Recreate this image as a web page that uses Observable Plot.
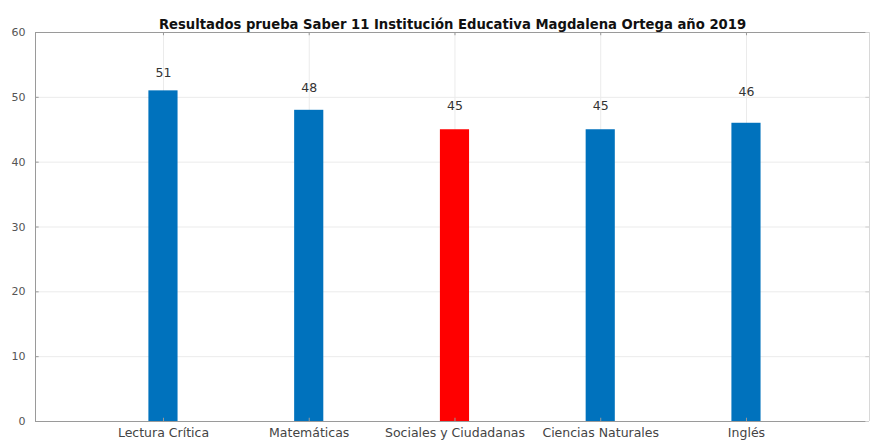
<!DOCTYPE html>
<html>
<head>
<meta charset="utf-8">
<script src="https://cdn.jsdelivr.net/npm/d3@7"></script>
<script src="https://cdn.jsdelivr.net/npm/@observablehq/plot@0.6"></script>
<style>
  html, body { margin: 0; padding: 0; background: #fff; }
  svg { display: block; font-family: "DejaVu Sans", sans-serif; }
</style>
</head>
<body>
<div id="chart"></div>
<script>
const title = "Resultados prueba Saber 11 Institución Educativa Magdalena Ortega año 2019";
const categories = ["Lectura Crítica", "Matemáticas", "Sociales y Ciudadanas", "Ciencias Naturales", "Inglés"];
const scores = [51, 48, 45, 45, 46];
const labelHeights = [53.7, 51.5, 48.6, 48.6, 50.8];
const highlight = ["Sociales y Ciudadanas"];
const yTicks = [0, 10, 20, 30, 40, 50, 60];

const data = categories.map((c, i) => ({
  cat: c, idx: i + 1, value: scores[i], labelY: labelHeights[i],
  color: highlight.includes(c) ? "#FF0000" : "#0072BD"
}));

const xDomain = [0.122, 5.844];
const gridColor = "#ebebeb";
const axisColor = "#9a9a9a";

const chart = Plot.plot({
  width: 870,
  height: 443,
  marginLeft: 35,
  marginRight: 1,
  marginTop: 32,
  marginBottom: 22,
  x: {type: "linear", domain: xDomain, axis: null},
  y: {domain: [0, 60], axis: null},
  marks: [
    // grid
    Plot.ruleY(yTicks.slice(1, -1), {stroke: gridColor, strokeWidth: 1}),
    Plot.ruleX(data, {x: "idx", stroke: gridColor, strokeWidth: 1}),
    // bars
    Plot.rectY(data, {x1: d => d.idx - 0.1, x2: d => d.idx + 0.1, y1: 0, y2: "value", fill: "color"}),
    // frame
    Plot.ruleY([0, 60], {stroke: axisColor, strokeWidth: 1}),
    Plot.ruleX([xDomain[0]], {stroke: axisColor, strokeWidth: 1}),
    Plot.ruleX([xDomain[1]], {stroke: "#d8d8d8", strokeWidth: 1}),
    // inward ticks
    Plot.ruleY(yTicks, {y: d => d, x1: xDomain[0], x2: xDomain[0] + 0.025, stroke: axisColor}),
    Plot.ruleY(yTicks, {y: d => d, x1: xDomain[1], x2: xDomain[1] - 0.025, stroke: "#cfcfcf"}),
    Plot.ruleX(data, {x: "idx", y1: 0, y2: 0.5, stroke: axisColor}),
    Plot.ruleX(data, {x: "idx", y1: 60, y2: 59.5, stroke: axisColor}),
    // y tick labels
    Plot.text(yTicks, {y: d => d, frameAnchor: "left", dx: -10, textAnchor: "end", text: d => String(d), fill: "#555", fontSize: 11}),
    // x tick labels
    Plot.text(data, {x: "idx", frameAnchor: "bottom", dy: 15, text: "cat", fill: "#444", fontSize: 12.5}),
    // value labels
    Plot.text(data, {x: "idx", y: "labelY", text: d => String(d.value), fill: "#333", fontSize: 12.5}),
    // title
    Plot.text([title], {frameAnchor: "top", dy: -13, text: d => d, fill: "#111", fontSize: 13.2, fontWeight: "bold"})
  ]
});
document.getElementById("chart").append(chart);
</script>
</body>
</html>
